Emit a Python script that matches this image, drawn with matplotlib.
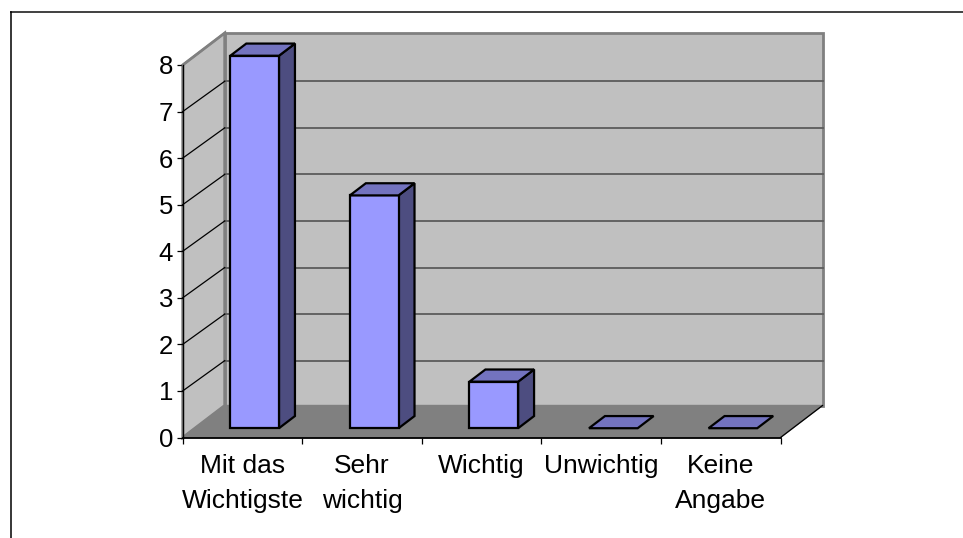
import matplotlib
matplotlib.use("Agg")
import matplotlib.pyplot as plt
from matplotlib.lines import Line2D

plt.rcParams['font.family'] = ['Liberation Sans', 'DejaVu Sans']

categories = ["Mit das\nWichtigste", "Sehr\nwichtig", "Wichtig", "Unwichtig", "Keine\nAngabe"]
values = [8, 5, 1, 0, 0]
y_ticks = [0, 1, 2, 3, 4, 5, 6, 7, 8]

W, H = 963, 538
# plot area in pixels, front plane of the oblique box
left, right, top, bottom = 182.7, 780.5, 65.0, 437.5

# oblique depth of the whole box, in data units
depth_x = 42 / ((right - left) / len(categories))
depth_y = 32 / ((bottom - top) / 8)
bar_width = 0.407
bar_front = 0.29
bar_back = 0.67
grid_drop = 0.037


def project(x, y, d):
    return x + d * depth_x, y + d * depth_y


def face(ax, corners, color, edge, lw, z):
    pts = [project(*c) for c in corners]
    ax.fill([p[0] for p in pts], [p[1] for p in pts], facecolor=color,
            edgecolor=edge, linewidth=lw, zorder=z, clip_on=False, joinstyle="miter")


fig = plt.figure(figsize=(W / 100, H / 100), dpi=100, facecolor="white")
ax = fig.add_axes([left / W, 1 - bottom / H, (right - left) / W, (bottom - top) / H])
ax.set_xlim(0, len(categories))
ax.set_ylim(0, 8)
ax.patch.set_visible(False)

n = len(categories)
ymax = y_ticks[-1]

# walls and floor
face(ax, [(0, 0, 1), (n, 0, 1), (n, ymax, 1), (0, ymax, 1)], "#C0C0C0", "#808080", 2, 1)
face(ax, [(0, 0, 0), (0, 0, 1), (0, ymax, 1), (0, ymax, 0)], "#C0C0C0", "#808080", 2, 1)
face(ax, [(0, 0, 0), (n, 0, 0), (n, 0, 1), (0, 0, 1)], "#808080", "#808080", 1, 1)

# grid
for t in y_ticks[1:-1]:
    x0, y0 = project(0, t, 1)
    x1, y1 = project(n, t, 1)
    ax.plot([x0, x1], [y0 - grid_drop, y1 - grid_drop], color="#5c5c5c", lw=1.3, zorder=2, clip_on=False)
    ax.plot([0, x0], [t, y0 - grid_drop], color="black", lw=0.9, zorder=2, clip_on=False)
ax.plot([n, project(n, 0, 1)[0]], [0, project(n, 0, 1)[1]], color="black", lw=0.9, zorder=2, clip_on=False)
ax.plot([0, project(0, ymax, 1)[0]], [ymax, project(0, ymax, 1)[1]], color="#808080", lw=1.5, zorder=2, clip_on=False)

# bars
for i, v in enumerate(values):
    a = i + 0.5 - bar_width / 2
    b = i + 0.5 + bar_width / 2
    if v > 0:
        face(ax, [(b, 0, bar_front), (b, 0, bar_back), (b, v, bar_back), (b, v, bar_front)], "#4D4D80", "black", 1.6, 3)
        face(ax, [(a, 0, bar_front), (b, 0, bar_front), (b, v, bar_front), (a, v, bar_front)], "#9999FF", "black", 1.6, 4)
    face(ax, [(a, v, bar_front), (b, v, bar_front), (b, v, bar_back), (a, v, bar_back)], "#7373BF", "black", 1.6, 4)

# axes
for s in ["top", "right"]:
    ax.spines[s].set_visible(False)
ax.spines["left"].set_zorder(5)
ax.spines["left"].set_linewidth(1.0)
ax.spines["bottom"].set_zorder(5)
ax.spines["bottom"].set_linewidth(1.3)
ax.set_yticks(y_ticks)
ax.set_yticklabels([str(t) for t in y_ticks], fontsize=18.5)
ax.set_xticks(range(n + 1))
ax.set_xticklabels([])
ax.set_xticks([i + 0.5 for i in range(n)], minor=True)
ax.set_xticklabels(categories, minor=True, fontsize=19, linespacing=1.55)
ax.tick_params(axis="x", which="major", length=4.5, width=0.9, direction="out")
ax.tick_params(axis="x", which="minor", length=0, pad=12)
ax.tick_params(axis="y", length=4.5, width=0.9, direction="out", pad=2.5)

# frame around the embedded picture, cut at right and bottom
fig.add_artist(Line2D([10.5 / W, 1], [1 - 12 / H, 1 - 12 / H], color="#404040", lw=1.4))
fig.add_artist(Line2D([10.5 / W, 10.5 / W], [0, 1 - 12 / H], color="black", lw=1.1))

fig.savefig("out.png", dpi=100)
